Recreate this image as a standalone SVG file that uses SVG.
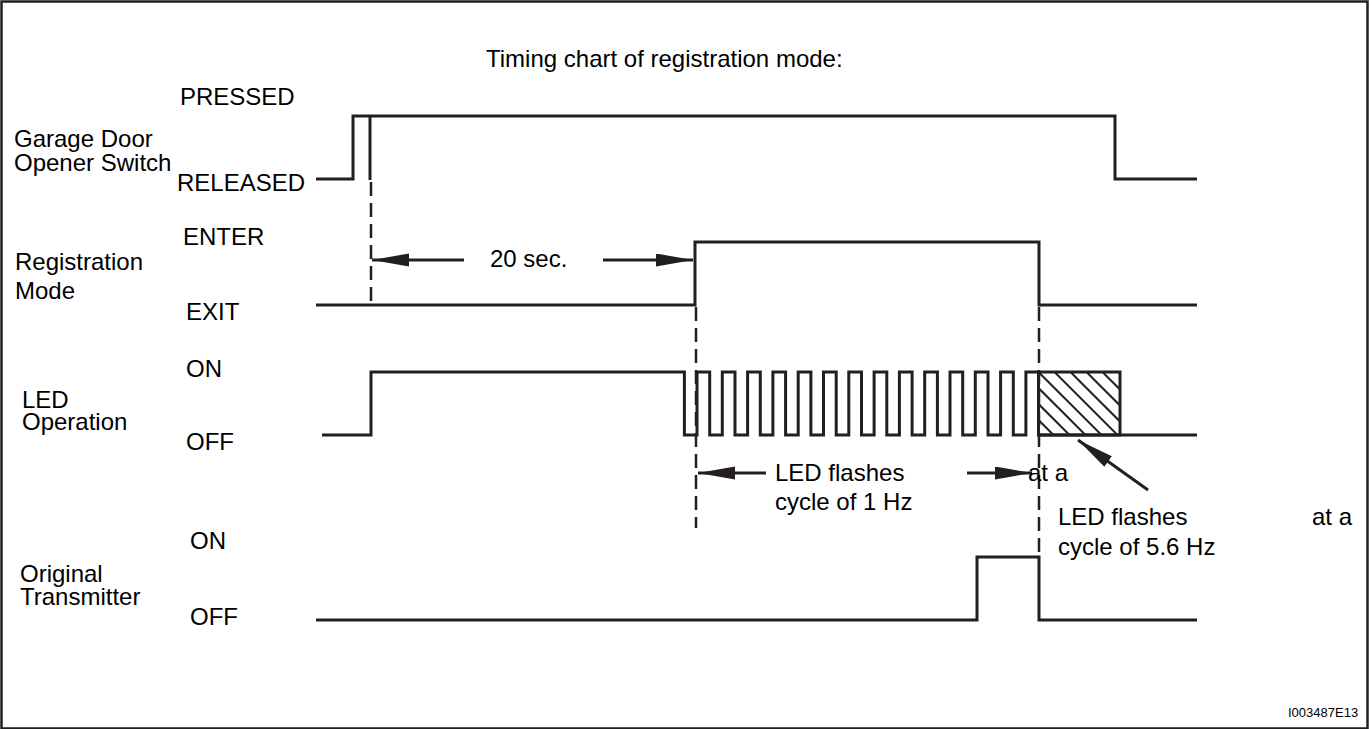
<svg xmlns="http://www.w3.org/2000/svg" width="1372" height="729" viewBox="0 0 1372 729">
<style>
text{font-family:"Liberation Sans",Arial,sans-serif;font-size:24px;fill:#000}
.sig{fill:none;stroke:#231f20;stroke-width:3;stroke-linejoin:miter;stroke-linecap:butt}
.dash{fill:none;stroke:#231f20;stroke-width:2.5;stroke-dasharray:14 7}
.arr{fill:none;stroke:#231f20;stroke-width:3;marker-end:url(#ah)}
.hatch{stroke:#231f20;stroke-width:2}
</style>
<defs>
<marker id="ah" markerUnits="userSpaceOnUse" markerWidth="38" markerHeight="14" refX="37" refY="6.5" orient="auto">
<path d="M0,0 L37,6.5 L0,13 Z" fill="#231f20"/>
</marker>
<clipPath id="hclip"><rect x="1038.5" y="372" width="81.5" height="63"/></clipPath>
</defs>
<rect x="1.5" y="1.5" width="1366" height="727" fill="#fff" stroke="#231f20" stroke-width="2.5"/>
<text x="486" y="67">Timing chart of registration mode:</text>

<g id="garage-switch">
<text x="180" y="105">PRESSED</text>
<text x="14" y="147">Garage Door</text>
<text x="14" y="171">Opener Switch</text>
<text x="177" y="191">RELEASED</text>
<path class="sig" d="M316 179 H353 V116 H1115 V179 H1197"/>
<path class="sig" d="M370 116 V180"/>
</g>

<g id="registration-mode">
<text x="183" y="245">ENTER</text>
<text x="15" y="270">Registration</text>
<text x="15" y="299">Mode</text>
<text x="186" y="320">EXIT</text>
<path class="sig" d="M316 305 H695 V242 H1039 V305 H1197"/>
</g>

<g id="led-operation">
<text x="186" y="377">ON</text>
<text x="22" y="408">LED</text>
<text x="22" y="430">Operation</text>
<text x="186" y="450">OFF</text>
<path class="sig" d="M322 435 H371 V372 H684.4 V435 H697 V372 H709.7 V435 H722.3 V372 H735 V435 H747.6 V372 H760.3 V435 H772.9 V372 H785.6 V435 H798.2 V372 H810.9 V435 H823.5 V372 H836.2 V435 H848.8 V372 H861.5 V435 H874.1 V372 H886.8 V435 H899.4 V372 H912.1 V435 H924.7 V372 H937.4 V435 H950 V372 H962.7 V435 H975.3 V372 H988 V435 H1000.6 V372 H1013.3 V435 H1025.9 V372 H1038.5 V435 H1197"/>
<g clip-path="url(#hclip)">
<line class="hatch" x1="990.5" y1="372" x2="1053.5" y2="435"/>
<line class="hatch" x1="1006.5" y1="372" x2="1069.5" y2="435"/>
<line class="hatch" x1="1022.5" y1="372" x2="1085.5" y2="435"/>
<line class="hatch" x1="1038.5" y1="372" x2="1101.5" y2="435"/>
<line class="hatch" x1="1054.5" y1="372" x2="1117.5" y2="435"/>
<line class="hatch" x1="1070.5" y1="372" x2="1133.5" y2="435"/>
<line class="hatch" x1="1086.5" y1="372" x2="1149.5" y2="435"/>
<line class="hatch" x1="1102.5" y1="372" x2="1165.5" y2="435"/>
<line class="hatch" x1="1118.5" y1="372" x2="1181.5" y2="435"/>
</g>
<rect x="1038.5" y="372" width="81.5" height="63" fill="none" stroke="#231f20" stroke-width="3"/>
</g>

<g id="original-transmitter">
<text x="190" y="549">ON</text>
<text x="20" y="582">Original</text>
<text x="20" y="605">Transmitter</text>
<text x="190" y="625">OFF</text>
<path class="sig" d="M316 620 H977 V557 H1039 V620 H1197"/>
</g>

<g id="connectors">
<line class="dash" x1="371" y1="182" x2="371" y2="308"/>
<line class="dash" x1="696" y1="307" x2="696" y2="528"/>
<line class="dash" x1="1039" y1="307" x2="1039" y2="556"/>
<line class="arr" x1="464" y1="260" x2="372" y2="260"/>
<line class="arr" x1="603" y1="260" x2="693" y2="260"/>
<line class="arr" x1="766" y1="473" x2="698" y2="473"/>
<line class="arr" x1="967" y1="473" x2="1032" y2="473"/>
<line class="arr" x1="1148" y1="490" x2="1078" y2="440"/>
</g>

<g id="labels">
<text x="490" y="267">20 sec.</text>
<text x="775" y="481">LED flashes</text>
<text x="775" y="510">cycle of 1 Hz</text>
<text x="1028" y="481">at a</text>
<text x="1058" y="525">LED flashes</text>
<text x="1312" y="525">at a</text>
<text x="1058" y="555">cycle of 5.6 Hz</text>
<text x="1288" y="717" style="font-size:13px">I003487E13</text>
</g>
</svg>
